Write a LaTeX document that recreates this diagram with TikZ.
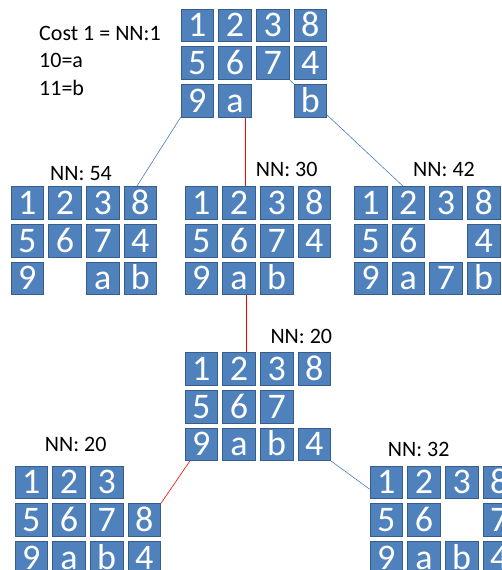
\documentclass[tikz,border=0pt]{standalone}
\usepackage{fontspec}
\setmainfont{Carlito}
\usetikzlibrary{backgrounds}
\definecolor{tilefill}{RGB}{79,129,189}
\definecolor{tileedge}{RGB}{56,93,138}
\definecolor{linkblue}{RGB}{74,126,187}
\def\blankmark{x}
% one board: name, left, top, tiles row by row (x = empty)
\newcommand{\puzzle}[4]{%
  \foreach \lbl [count=\i from 0] in {#4}{%
    \pgfmathtruncatemacro\col{mod(\i,4)}%
    \pgfmathtruncatemacro\row{div(\i,4)}%
    \edef\cur{\lbl}%
    \ifx\cur\blankmark\else
      \node[tile] (#1\lbl) at ({#2+16.25+37.7*\col},{#3+16.25+37.7*\row}) {\lbl};
    \fi}}

\begin{document}
\begin{tikzpicture}[
  x=1pt,y=-1pt,
  tile/.style={draw=tileedge,line width=0.6pt,fill=tilefill,text=white,
    minimum size=32.5pt,inner sep=0pt,text height=23pt,text depth=0pt,
    font=\fontsize{36}{36}\selectfont},
  note/.style={font=\fontsize{22}{26}\selectfont,anchor=base west,inner sep=0pt},
  nn/.style={font=\fontsize{22}{26}\selectfont,anchor=base,inner sep=0pt},
  bluelink/.style={linkblue,line width=0.6pt},
  redlink/.style={red,line width=0.6pt}
]
  \clip (0,0) rectangle (502,570);

  \node[note] (cost) at (39,40) {Cost 1 = NN:1};
  \node[note] (tena) at (39,67.5) {10=a};
  \node[note] (elevenb) at (39,95) {11=b};

  \puzzle{T}{181}{9}{1,2,3,8,5,6,7,4,9,a,x,b}
  \puzzle{L}{11}{186.7}{1,2,3,8,5,6,7,4,9,x,a,b}
  \puzzle{M}{185}{186.7}{1,2,3,8,5,6,7,4,9,a,b,x}
  \puzzle{R}{354.3}{186.7}{1,2,3,8,5,6,x,4,9,a,7,b}
  \puzzle{C}{185}{352.7}{1,2,3,8,5,6,7,x,9,a,b,4}
  \puzzle{D}{15}{466}{1,2,3,x,5,6,7,8,9,a,b,4}
  \puzzle{E}{370}{466}{1,2,3,8,5,6,x,7,9,a,b,4}

  \node[nn] (nnL) at (81,180) {NN: 54};
  \node[nn] (nnM) at (286.7,176.7) {NN: 30};
  \node[nn] (nnR) at (444,176.7) {NN: 42};
  \node[nn] (nnC) at (301.3,343.3) {NN: 20};
  \node[nn] (nnD) at (75.7,451.7) {NN: 20};
  \node[nn] (nnE) at (418.7,456) {NN: 32};

  \begin{scope}[on background layer]
    \draw[bluelink] (T9.south west) -- ([xshift=-3.6pt]L8.north);
    \draw[redlink] ([xshift=10.75pt]Ta.south) -- ([xshift=6.75pt]M2.north);
    \draw[bluelink] (T7.south east) -- ([xshift=-5pt]R2.north);
    \draw[redlink] ([xshift=7pt]Ma.south) -- ([xshift=7pt]C2.north);
    \draw[redlink] (C9) -- (D8.north east);
    \draw[bluelink] (C4.south east) -- ([yshift=-7pt]E1.west);
  \end{scope}
\end{tikzpicture}
\end{document}
